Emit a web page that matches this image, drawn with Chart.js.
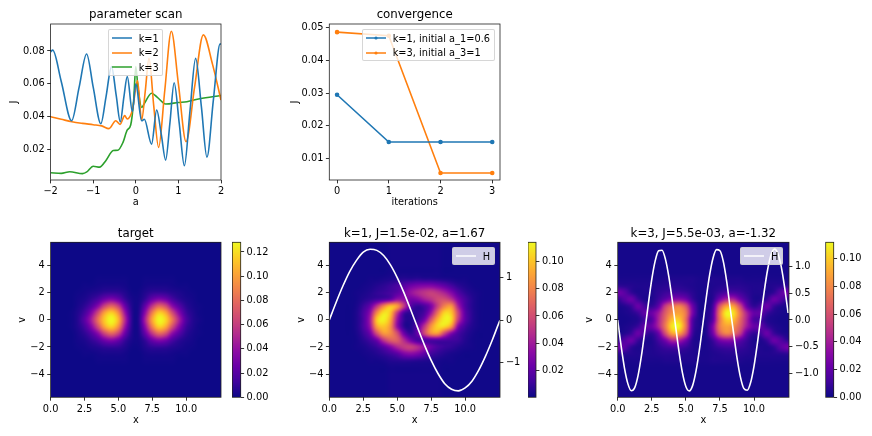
<!DOCTYPE html>
<html>
<head>
<meta charset="utf-8">
<script src="https://cdn.jsdelivr.net/npm/chart.js@4"></script>
<style>
  html, body { margin: 0; background: #fff; width: 872px; height: 436px; overflow: hidden; }
  canvas { position: absolute; }
  .legend { position: absolute; box-sizing: border-box; background: rgba(255,255,255,0.8); border: 1px solid rgba(204,204,204,0.8);
            border-radius: 2px; font: 9.8px "DejaVu Sans"; color: #000; padding: 1px 0 0 3px; }
  .legend div { height: 14.4px; display: flex; align-items: center; white-space: nowrap; }
  .legend svg { margin-right: 7px; }
</style>
</head>
<body>
<script>
// parameter scan
const scan_a_1 = [-2,-1.95,-1.75,-1.507,-1.33,-1.155,-1,-0.82,-0.7,-0.57,-0.46,-0.364,-0.28,-0.2,-0.08,0,0.137,0.2,0.37,0.49,0.6,0.7,0.8,0.9,1.02,1.14,1.27,1.405,1.54,1.67,1.82,1.98,2];
const scan_k1 = [0.0795,0.0805,0.0615,0.0376,0.058,0.0782,0.058,0.0358,0.052,0.0705,0.053,0.037,0.052,0.0644,0.0431,0.06,0.0376,0.0385,0.0234,0.0441,0.029,0.0137,0.036,0.0607,0.036,0.0103,0.043,0.0755,0.046,0.0155,0.05,0.0843,0.084];
const scan_a_2 = [-2,-1.75,-1.5,-1.25,-1,-0.8,-0.63,-0.47,-0.37,-0.26,-0.2,-0.08,0.04,0.137,0.22,0.31,0.42,0.535,0.68,0.834,1,1.18,1.38,1.585,1.8,2];
const scan_k2 = [0.04,0.0385,0.037,0.036,0.0352,0.0345,0.0328,0.0376,0.0354,0.0407,0.0387,0.0441,0.062,0.038,0.055,0.0755,0.047,0.0214,0.056,0.092,0.06,0.0249,0.058,0.0898,0.072,0.0502];
const scan_a_3 = [-2,-1.75,-1.55,-1.25,-1.15,-1,-0.85,-0.7,-0.53,-0.42,-0.3,-0.2,-0.12,-0.05,0,0.05,0.14,0.2,0.37,0.5,0.7,1,1.2,1.5,2];
const scan_k3 = [0.006,0.0056,0.0066,0.0055,0.0065,0.0100,0.0094,0.0135,0.0195,0.0197,0.0245,0.032,0.035,0.05,0.0705,0.058,0.0457,0.048,0.0543,0.052,0.0478,0.0487,0.0492,0.051,0.053];

// convergence
const iterations = [0,1,2,3];
const conv_k1 = [0.0295,0.015,0.015,0.015];
const conv_k3 = [0.0487,0.0476,0.0055,0.0055];

// grid the phase space values were read on
const grid_x = [0,0.5,1,1.5,2,2.5,3,3.5,4,4.5,5,5.5,6,6.5,7,7.5,8,8.5,9,9.5,10,10.5,11,11.5,12,12.5];
const grid_v = [3.5,3,2.5,2,1.5,1,0.5,0,-0.5,-1,-1.5,-2,-2.5,-3,-3.5];

// values x 1000, one line per v
const target_rows = [
  [0,0,0,0,0,0,0,0,0,0,0,0,0,0,0,0,0,0,0,0,0,0,0,0,0,0],
  [0,0,0,0,0,0,0,1,1,1,1,1,0,0,1,1,1,1,1,0,0,0,0,0,0,0],
  [0,0,0,0,0,1,1,2,3,3,3,2,0,0,2,3,3,3,2,1,1,0,0,0,0,0],
  [0,0,0,0,1,2,4,6,9,10,9,5,1,1,5,9,10,9,6,4,2,1,0,0,0,0],
  [0,0,0,0,2,4,9,16,28,34,26,11,3,2,10,25,34,29,16,8,4,2,0,0,0,0],
  [0,0,0,0,3,8,18,36,64,78,62,26,5,3,24,56,78,68,38,20,8,3,1,0,0,0],
  [0,0,0,1,5,14,34,66,102,116,94,42,7,4,38,86,115,104,68,36,13,5,1,0,0,0],
  [0,0,0,1,6,20,45,82,114,128,108,52,8,5,48,100,127,118,85,48,18,6,2,0,0,0],
  [0,0,0,1,5,14,34,66,102,116,94,42,7,4,38,86,115,104,68,36,13,5,1,0,0,0],
  [0,0,0,0,3,8,18,36,64,78,62,26,5,3,24,56,78,68,38,20,8,3,1,0,0,0],
  [0,0,0,0,2,4,9,16,28,34,26,11,3,2,10,25,34,29,16,8,4,2,0,0,0,0],
  [0,0,0,0,1,2,4,6,9,10,9,5,1,1,5,9,10,9,6,4,2,1,0,0,0,0],
  [0,0,0,0,0,1,1,2,3,3,3,2,0,0,2,3,3,3,2,1,1,0,0,0,0,0],
  [0,0,0,0,0,0,0,1,1,1,1,1,0,0,1,1,1,1,1,0,0,0,0,0,0,0],
  [0,0,0,0,0,0,0,0,0,0,0,0,0,0,0,0,0,0,0,0,0,0,0,0,0,0]
];
const k1_rows = [
  [1,1,1,1,1,1,1,1,1,2,2,2,2,2,2,2,2,1,1,1,1,1,1,1,1,1],
  [1,1,1,1,1,1,2,2,3,4,5,6,6,7,6,6,5,4,3,2,2,1,1,1,1,1],
  [1,1,1,1,1,2,3,5,7,10,14,18,24,28,30,30,26,20,13,7,4,2,1,1,1,1],
  [1,1,1,1,2,3,5,8,10,13,18,26,36,44,50,54,50,42,30,16,8,4,2,1,1,1],
  [1,1,1,1,2,5,8,12,16,22,36,34,26,30,40,48,58,60,50,28,14,6,2,1,1,1],
  [1,1,1,1,3,10,22,50,80,98,88,52,18,9,14,28,56,80,85,42,16,6,2,1,1,1],
  [1,1,1,1,4,14,34,82,108,100,52,14,7,8,14,38,76,105,100,56,20,7,2,1,1,1],
  [1,1,1,1,4,14,40,100,112,92,38,9,5,10,26,62,96,112,105,52,20,7,2,1,1,1],
  [1,1,1,1,4,14,36,88,100,84,36,8,5,20,50,85,105,105,85,30,12,5,2,1,1,1],
  [1,1,1,1,3,10,24,60,86,82,60,24,9,22,56,82,86,56,30,14,7,3,1,1,1,1],
  [1,1,1,1,2,6,12,24,50,66,66,46,26,14,14,16,16,14,12,10,5,2,1,1,1,1],
  [1,1,1,1,2,3,6,10,18,30,44,52,54,46,34,22,14,10,8,5,3,2,1,1,1,1],
  [1,1,1,1,1,2,3,5,8,12,18,28,32,28,20,12,8,5,3,2,1,1,1,1,1,1],
  [1,1,1,1,1,1,2,2,3,5,6,7,7,6,5,4,3,2,2,1,1,1,1,1,1,1],
  [1,1,1,1,1,1,1,1,1,2,2,2,2,2,2,2,2,1,1,1,1,1,1,1,1,1]
];
const k3_rows = [
  [2,2,2,2,2,2,2,2,2,2,2,2,2,2,2,2,2,2,2,2,2,2,2,2,2,2],
  [3,3,3,3,3,3,3,4,4,4,4,4,3,3,4,4,4,4,4,3,3,3,3,3,3,3],
  [7,6,5,4,4,4,5,6,6,6,5,4,3,3,4,5,6,6,6,5,4,4,4,5,6,7],
  [24,18,8,4,4,4,7,10,12,12,10,6,3,3,5,10,14,14,11,7,4,4,4,8,18,24],
  [8,16,22,10,4,4,10,20,30,32,26,10,3,3,6,26,42,44,26,12,4,4,10,22,16,8],
  [3,5,10,22,12,8,20,52,70,78,62,24,4,3,12,60,88,88,58,22,8,12,22,10,5,3],
  [2,3,5,10,20,22,38,64,82,88,74,28,4,4,16,74,110,106,74,42,22,20,10,5,3,2],
  [2,2,3,5,12,16,42,70,96,100,72,18,4,4,18,72,100,96,70,42,16,12,5,3,2,2],
  [2,3,5,10,20,22,42,74,106,110,74,16,4,4,28,74,88,82,64,38,22,20,10,5,3,2],
  [3,5,10,22,12,8,22,58,88,88,60,12,3,4,24,62,78,70,52,20,8,12,22,10,5,3],
  [8,16,22,10,4,4,12,26,44,42,26,6,3,3,10,26,32,30,20,10,4,4,10,22,16,8],
  [24,18,8,4,4,4,7,11,14,14,10,5,3,3,6,10,12,12,10,7,4,4,4,8,18,24],
  [7,6,5,4,4,4,5,6,6,6,5,4,3,3,4,5,6,6,6,5,4,4,4,5,6,7],
  [3,3,3,3,3,3,3,4,4,4,4,4,3,3,4,4,4,4,4,3,3,3,3,3,3,3],
  [2,2,2,2,2,2,2,2,2,2,2,2,2,2,2,2,2,2,2,2,2,2,2,2,2,2]
];

// H curves
const h1_x = [0,0.5,1,1.5,2,2.5,3,3.5,4,4.5,5,5.5,6,6.5,7,7.5,8,8.5,9,9.5,10,10.5,11,11.5,12,12.5,12.56];
const h1_y = [0,0.413,0.8,1.14,1.405,1.6,1.666,1.64,1.52,1.3,1,0.64,0.236,-0.18,-0.585,-0.95,-1.26,-1.5,-1.63,-1.669,-1.6,-1.44,-1.18,-0.85,-0.47,-0.055,-0.01];
const h3_x = [0,0.25,0.5,0.75,1,1.25,1.5,1.75,2,2.25,2.5,2.75,3,3.25,3.5,3.75,4,4.25,4.5,4.75,5,5.25,5.5,5.75,6,6.25,6.5,6.75,7,7.25,7.5,7.75,8,8.25,8.5,8.75,9,9.25,9.5,9.75,10,10.25,10.5,10.75,11,11.25,11.5,11.75,12,12.25,12.5];
const h3_y = [0,-0.484,-0.9,-1.19,-1.317,-1.26,-1.027,-0.652,-0.186,0.305,0.755,1.1,1.29,1.3,1.134,0.808,0.369,-0.121,-0.594,-0.986,-1.238,-1.32,-1.218,-0.945,-0.544,-0.066,0.423,0.85,1.16,1.31,1.29,1.087,0.708,0.22,-0.24,-0.7,-1.06,-1.275,-1.31,-1.166,-0.858,-0.43,0.056,0.535,0.94,1.214,1.32,1.24,0.99,0.6,0.13];

// tick labels
const scan_x_ticks = [-2,-1,0,1,2];
const scan_y_ticks = [0.02,0.04,0.06,0.08];
const conv_y_ticks = [0.01,0.02,0.03,0.04,0.05];
const phase_x_ticks = [0,2.5,5,7.5,10];
const phase_y_ticks = [-4,-2,0,2,4];
const h1_ticks = [-1,0,1];
const h3_ticks = [-1,-0.5,0,0.5,1];
const cb_target_ticks = [0,0.02,0.04,0.06,0.08,0.1,0.12];
const cb_k1_ticks = [0.02,0.04,0.06,0.08,0.1];
const cb_k3_ticks = [0,0.02,0.04,0.06,0.08,0.1];

const PLASMA = ['#0d0887','#41049d','#6a00a8','#8f0da4','#b12a90','#cc4778','#e16462','#f2844b','#fca636','#fcce25','#f0f921']
  .map(c => [1,3,5].map(i => parseInt(c.substr(i,2),16)));

const TICK_FONT = { family: 'DejaVu Sans', size: 9.8, lineHeight: 1.2 };
const TITLE_FONT = { family: 'DejaVu Sans', size: 11.8, weight: 'normal', lineHeight: 1.2 };
const SPINE = '#222';

Chart.defaults.color = '#000';
Chart.defaults.animation = false;

function plasma(t) {
  t = Math.max(0, Math.min(1, t)) * 10;
  let i = Math.min(9, Math.floor(t)), f = t - i;
  return PLASMA[i].map((c, n) => c + (PLASMA[i+1][n] - c) * f);
}

function cubic(a, b, c, d, t) {
  return b + 0.5*t*(c - a + t*(2*a - 5*b + 4*c - d + t*(3*(b - c) + d - a)));
}

// smooth lookup in the flat cell list of a heat dataset
function sample(cells, nx, ny, fx, fy) {
  let ix = Math.floor(fx), iy = Math.floor(fy);
  let at = (i, j) => cells[Math.max(0, Math.min(ny-1, j))*nx + Math.max(0, Math.min(nx-1, i))].v;
  let col = [];
  for(let j=-1; j<3; ++j)
    col.push(cubic(at(ix-1,iy+j), at(ix,iy+j), at(ix+1,iy+j), at(ix+2,iy+j), fx-ix));
  return cubic(col[0], col[1], col[2], col[3], fy-iy);
}

const frame = {
  id: 'frame',
  afterDraw(chart) {
    let a = chart.chartArea, c = chart.ctx;
    c.save();
    c.strokeStyle = SPINE;
    c.lineWidth = 0.8;
    c.strokeRect(a.left, a.top, a.right-a.left, a.bottom-a.top);
    c.restore();
  }
};

const heat = {
  id: 'heat',
  beforeDatasetsDraw(chart) {
    let opt = chart.options.plugins.heat;
    if(!opt || !opt.range) return;
    let a = chart.chartArea, r = chart.currentDevicePixelRatio;
    let W = Math.ceil((a.right-a.left)*r), H = Math.ceil((a.bottom-a.top)*r);
    let off = document.createElement('canvas');
    off.width = W; off.height = H;
    let octx = off.getContext('2d'), img = octx.createImageData(W, H);
    let cells = chart.data.datasets[0].data;
    let x = chart.scales.x, y = chart.scales.y;
    for(let j=0; j<H; ++j) {
      let vy = opt.colorbar ? y.getValueForPixel(a.top + (j+0.5)/r) : (grid_v[0] - y.getValueForPixel(a.top + (j+0.5)/r)) / 0.5;
      for(let i=0; i<W; ++i) {
        let val = vy;
        if(!opt.colorbar) {
          let fx = x.getValueForPixel(a.left + (i+0.5)/r) / 0.5;
          val = sample(cells, grid_x.length, grid_v.length, fx, vy) / 1000;
        }
        let c = plasma((val - opt.range[0]) / (opt.range[1] - opt.range[0]));
        let p = (j*W + i)*4;
        img.data[p] = c[0]; img.data[p+1] = c[1]; img.data[p+2] = c[2]; img.data[p+3] = 255;
      }
    }
    octx.putImageData(img, 0, 0);
    chart.ctx.drawImage(off, a.left, a.top, a.right-a.left, a.bottom-a.top);
  }
};

function fmt(digits) {
  return v => v.toFixed(digits).replace('-', '\u2212');
}

function axis(pos, min, max, ticks, digits, size, label) {
  return {
    type: 'linear', position: pos, min: min, max: max,
    afterBuildTicks: s => { s.ticks = ticks.map(v => ({ value: v })); },
    afterFit: s => { if(pos==='bottom') s.height = size; else s.width = size; },
    grid: { drawOnChartArea: false, drawTicks: true, tickLength: 3.4, tickWidth: 0.8, tickColor: '#000' },
    border: { display: false },
    ticks: { font: TICK_FONT, padding: 2.5, autoSkip: false, maxRotation: 0, callback: fmt(digits), color: '#000' },
    title: label ? { display: true, text: label, font: TICK_FONT, padding: 0, color: '#000' } : { display: false }
  };
}

function panel(p, config) {
  let cv = document.createElement('canvas');
  let left = p.labelX - 5.6, top = p.t - 21, right = p.r + p.rightW, bottom = p.labelY + 5.6;
  left = Math.floor(left); top = Math.floor(top); right = Math.ceil(right); bottom = Math.ceil(bottom);
  cv.width = right-left; cv.height = bottom-top;
  cv.style.left = left + 'px'; cv.style.top = top + 'px';
  cv.style.width = (right-left) + 'px'; cv.style.height = (bottom-top) + 'px';
  document.body.appendChild(cv);
  p.padTop = p.t - top - 15.66;
  p.padRight = p.hasRight ? 0 : right - p.r;
  config.options = Object.assign(config.options || {}, {
    responsive: false,
    layout: { autoPadding: false, padding: { top: p.padTop, right: p.padRight, left: 0, bottom: 0 } }
  });
  config.options.plugins = Object.assign({
    legend: { display: false },
    tooltip: { enabled: false },
    title: { display: true, text: p.title, font: TITLE_FONT, fullSize: false, padding: { top: 0, bottom: 1.5 }, color: '#000' }
  }, config.options.plugins || {});
  config.plugins = [heat, frame];
  return new Chart(cv, config);
}

function colorbar(p, range, ticks) {
  let cv = document.createElement('canvas');
  let left = Math.floor(p.l), top = Math.floor(p.t - 20), right = left + 45, bottom = Math.ceil(p.b + 20);
  cv.width = right-left; cv.height = bottom-top;
  cv.style.left = left + 'px'; cv.style.top = top + 'px';
  cv.style.width = (right-left) + 'px'; cv.style.height = (bottom-top) + 'px';
  document.body.appendChild(cv);
  new Chart(cv, {
    type: 'scatter',
    data: { datasets: [{ data: [] }] },
    options: {
      responsive: false,
      layout: { autoPadding: false, padding: { left: p.l-left, top: p.t-top, bottom: bottom-p.b, right: 0 } },
      plugins: { legend: { display: false }, tooltip: { enabled: false }, heat: { range: range, colorbar: true } },
      scales: {
        x: { type: 'linear', display: false, min: 0, max: 1 },
        y: axis('right', range[0], range[1], ticks, 2, right-p.r)
      }
    },
    plugins: [heat, frame]
  });
}

function cells(rows) {
  let out = [];
  rows.forEach((row, j) => row.forEach((v, i) => out.push({ x: grid_x[i], y: grid_v[j], v: v })));
  return out;
}

function xy(xs, ys) {
  return xs.map((x, i) => ({ x: x, y: ys[i] }));
}

function line(label, xs, ys, color, extra) {
  return Object.assign({
    label: label, type: 'scatter', showLine: true, data: xy(xs, ys),
    borderColor: color, backgroundColor: color, borderWidth: 1.6,
    pointRadius: 0, cubicInterpolationMode: 'monotone'
  }, extra || {});
}

function legend(left, top, width, height, rows, pad) {
  let box = document.createElement('div');
  box.className = 'legend';
  box.style.cssText = `left:${left}px;top:${top}px;width:${width}px;height:${height}px;` + (pad ? `padding-top:${pad}px;` : '');
  for(let r of rows) {
    let row = document.createElement('div');
    let dot = r.marker ? `<circle cx="10" cy="3" r="1.6" fill="${r.color}"/>` : '';
    row.innerHTML = `<svg width="20" height="6"><line x1="0" y1="3" x2="20" y2="3" stroke="${r.color}" stroke-width="1.5"/>${dot}</svg>`;
    row.appendChild(document.createTextNode(r.text));
    box.appendChild(row);
  }
  document.body.appendChild(box);
}

const BLUE = '#1f77b4', ORANGE = '#ff7f0e', GREEN = '#2ca02c';

// top row
let p1 = { l: 50.6, t: 24, r: 221, b: 180, labelX: 15, labelY: 202.4, rightW: 12, title: 'parameter scan' };
panel(p1, {
  type: 'scatter',
  data: { datasets: [
    line('k=1', scan_a_1, scan_k1, BLUE),
    line('k=2', scan_a_2, scan_k2, ORANGE),
    line('k=3', scan_a_3, scan_k3, GREEN)
  ] },
  options: { scales: {
    x: axis('bottom', -2, 2, scan_x_ticks, 0, 208-180, 'a'),
    y: axis('left', 0.0016, 0.0964, scan_y_ticks, 2, 50.6-9, 'J')
  } }
});
let p2 = { l: 329.3, t: 24, r: 500, b: 180, labelX: 296, labelY: 202.4, rightW: 12, title: 'convergence' };
let markers = { pointRadius: 1.5, cubicInterpolationMode: 'default', tension: 0 };
panel(p2, {
  type: 'scatter',
  data: { datasets: [
    line('k=1, initial a_1=0.6', iterations, conv_k1, BLUE, markers),
    line('k=3, initial a_3=1', iterations, conv_k3, ORANGE, markers)
  ] },
  options: { scales: {
    x: axis('bottom', -0.15, 3.15, iterations, 0, 208-180, 'iterations'),
    y: axis('left', 0.00334, 0.0512, conv_y_ticks, 2, 329.3-290, 'J')
  } }
});

// bottom row
function phase(p, rows, range, hLine, hRange, hTicks, hDigits) {
  let sets = [{ type: 'scatter', label: 'f', data: cells(rows), pointRadius: 0, showLine: false }];
  let scales = {
    x: axis('bottom', 0, 12.566, phase_x_ticks, 1, 426-p.b, 'x'),
    y: axis('left', -5.7, 5.7, phase_y_ticks, 0, p.l-Math.floor(p.labelX-5.6), 'v')
  };
  if(hLine) {
    sets.push(hLine);
    scales.y1 = axis('right', hRange[0], hRange[1], hTicks, hDigits, p.rightW);
  }
  panel(p, {
    type: 'scatter',
    data: { datasets: sets },
    options: { scales: scales, plugins: { heat: { range: range } } }
  });
}

phase({ l: 50.6, t: 242.3, r: 221, b: 397.3, labelX: 22.7, labelY: 420, rightW: 8, title: 'target' }, target_rows, [0, 0.128]);
phase({ l: 329.3, t: 242.3, r: 500, b: 397.3, labelX: 302, labelY: 420, rightW: 26, hasRight: true, title: 'k=1, J=1.5e-02, a=1.67' },
  k1_rows, [0.0001, 0.1143], line('H', h1_x, h1_y, '#fff', { yAxisID: 'y1' }), [-1.82, 1.83], h1_ticks, 0);
phase({ l: 617.7, t: 242.3, r: 788.3, b: 397.3, labelX: 590, labelY: 420, rightW: 34, hasRight: true, title: 'k=3, J=5.5e-03, a=-1.32' },
  k3_rows, [0, 0.1118], line('H', h3_x, h3_y, '#fff', { yAxisID: 'y1' }), [-1.44, 1.447], h3_ticks, 1);

colorbar({ l: 232.3, t: 242.3, r: 240.7, b: 397.3 }, [0, 0.128], cb_target_ticks);
colorbar({ l: 528, t: 242.3, r: 536, b: 397.3 }, [0.0001, 0.1143], cb_k1_ticks);
colorbar({ l: 825.7, t: 242.3, r: 833.7, b: 397.3 }, [0, 0.1118], cb_k3_ticks);

legend(107.7, 29.3, 55.6, 46.7, [
  { text: 'k=1', color: BLUE }, { text: 'k=2', color: ORANGE }, { text: 'k=3', color: GREEN }
]);
legend(361.7, 29.3, 133.3, 32, [
  { text: 'k=1, initial a_1=0.6', color: BLUE, marker: true },
  { text: 'k=3, initial a_3=1', color: ORANGE, marker: true }
]);
legend(451.7, 247, 43.6, 18, [{ text: 'H', color: '#fff' }]);
legend(740, 247, 43.3, 18, [{ text: 'H', color: '#fff' }]);
</script>
</body>
</html>
